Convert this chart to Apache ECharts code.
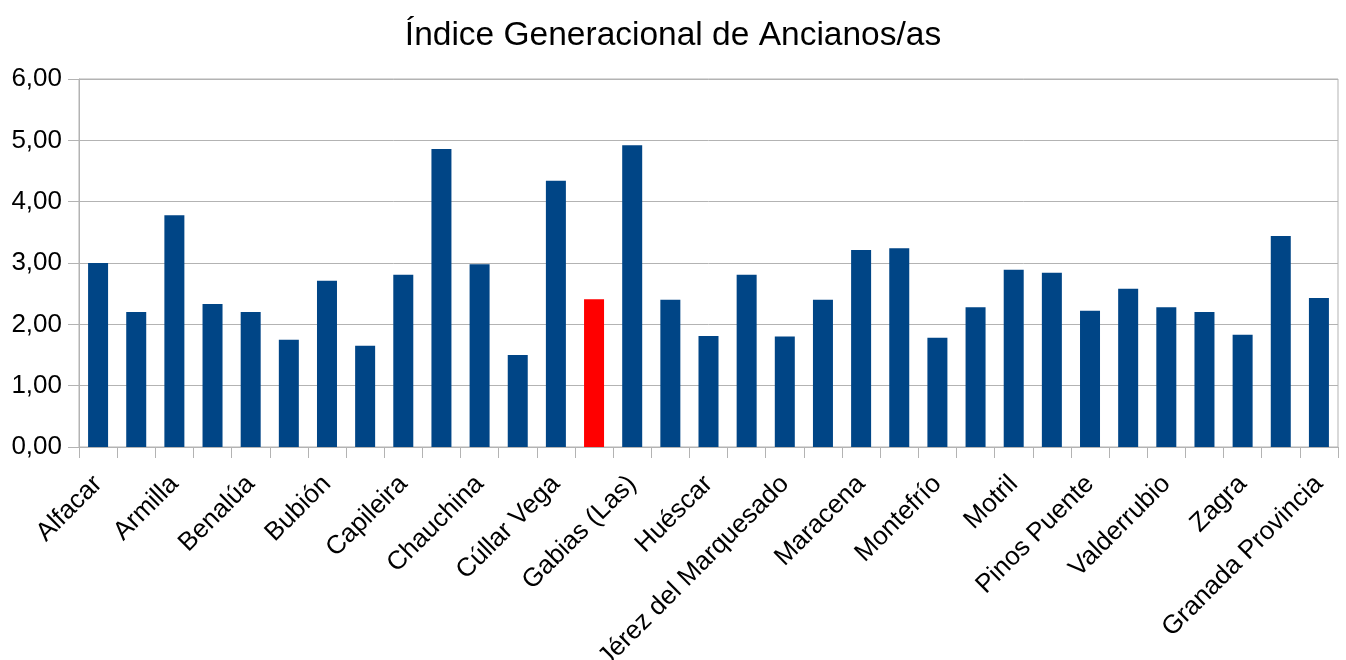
<!DOCTYPE html>
<html>
<head>
<meta charset="utf-8">
<script src="https://cdn.jsdelivr.net/npm/echarts@6/dist/echarts.min.js"></script>
<style>
  html, body { margin: 0; padding: 0; background: #fff; }
  #chart { width: 1346px; height: 660px; }
</style>
</head>
<body>
<div id="chart"></div>
<script>
// municipios (sólo se rotula uno de cada dos)
var municipios = [
  'Alfacar', 'Alhendín', 'Armilla', 'Atarfe', 'Benalúa', 'Beas de Granada',
  'Bubión', 'Cájar', 'Capileira', 'Cenes de la Vega', 'Chauchina',
  'Churriana de la Vega', 'Cúllar Vega', 'Fuente Vaqueros', 'Gabias (Las)',
  'Guadix', 'Huéscar', 'Íllora', 'Jérez del Marquesado', 'Loja', 'Maracena',
  'Monachil', 'Montefrío', 'Moraleda de Zafayona', 'Motril', 'Ogíjares',
  'Pinos Puente', 'Santa Fe', 'Valderrubio', 'Vegas del Genil', 'Zagra',
  'Zubia (La)', 'Granada Provincia'
];
var indice = [
  3.00, 2.20, 3.78, 2.33, 2.20, 1.75, 2.71, 1.65, 2.81, 4.86,
  2.98, 1.50, 4.34, 2.41, 4.92, 2.40, 1.81, 2.81, 1.80, 2.40,
  3.21, 3.24, 1.78, 2.28, 2.89, 2.84, 2.22, 2.58, 2.28, 2.20,
  1.83, 3.44, 2.43
];
var destacado = 13; // barra en rojo
var yTicks = [0, 1, 2, 3, 4, 5, 6];

var myChart = echarts.init(document.getElementById('chart'));

var datos = indice.map(function (v, i) {
  return i === destacado ? { value: v, itemStyle: { color: '#ff0000' } } : v;
});

myChart.setOption({
  animation: false,
  textStyle: { fontFamily: 'Liberation Sans' },
  title: {
    text: 'Índice Generacional de Ancianos/as',
    left: 'center',
    top: 14,
    textStyle: { fontFamily: 'Liberation Sans', fontSize: 33.5, fontWeight: 'normal', color: '#000' }
  },
  grid: {
    left: 79, right: 8, top: 79, bottom: 213,
    outerBoundsMode: 'none', containLabel: false,
    show: true, borderColor: '#b3b3b3', borderWidth: 1
  },
  xAxis: {
    type: 'category',
    data: municipios,
    axisLine: { lineStyle: { color: '#b3b3b3' } },
    axisTick: { show: true, interval: 0, length: 11, lineStyle: { color: '#b3b3b3' } },
    axisLabel: {
      interval: 1, rotate: 45, margin: 33,
      fontSize: 26, color: '#000', fontFamily: 'Liberation Sans'
    }
  },
  yAxis: {
    type: 'value',
    min: yTicks[0],
    max: yTicks[yTicks.length - 1],
    interval: 1,
    axisLine: { show: true, lineStyle: { color: '#b3b3b3' } },
    axisTick: { show: true, length: 11, lineStyle: { color: '#b3b3b3' } },
    splitLine: { lineStyle: { color: '#b3b3b3' } },
    axisLabel: {
      margin: 17, fontSize: 26, color: '#000', fontFamily: 'Liberation Sans',
      formatter: function (v) { return v.toFixed(2).replace('.', ','); }
    }
  },
  series: [{
    type: 'bar',
    data: datos,
    barWidth: 20,
    itemStyle: { color: '#004586' }
  }]
});
</script>
</body>
</html>
